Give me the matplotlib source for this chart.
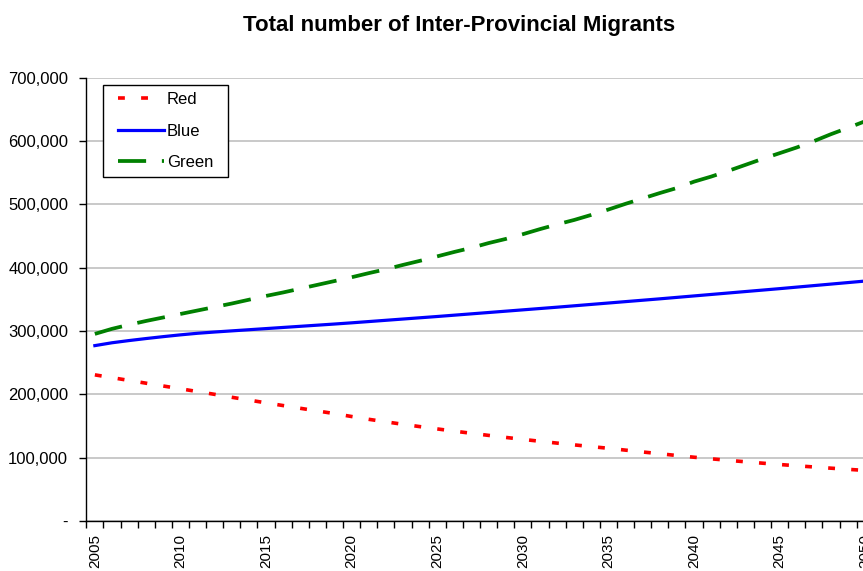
import matplotlib
matplotlib.use("Agg")
import matplotlib.pyplot as plt
import matplotlib.ticker as ticker
from matplotlib.path import Path

plt.rcParams['font.family'] = ['Liberation Sans', 'DejaVu Sans']

years = list(range(2005, 2051))

# inter-provincial migrants, thousands
red = [230.8, 226.4, 222.0, 217.6, 213.2, 208.8, 204.4, 200.0, 195.4, 191.0,
       186.6, 182.3, 178.0, 173.8, 169.6, 165.0, 160.6, 156.6, 152.7, 149.0,
       145.4, 141.9, 138.5, 135.2, 132.0, 128.9, 125.9, 123.0, 120.2, 117.5,
       114.8, 111.9, 109.0, 106.2, 103.4, 100.7, 98.2, 95.8, 93.5, 91.3,
       89.2, 87.2, 85.3, 83.4, 81.6, 79.8]
blue = [277.0, 281.5, 285.0, 288.2, 291.2, 294.0, 296.5, 298.5, 300.3, 302.1,
        303.9, 305.7, 307.5, 309.3, 311.1, 313.0, 315.0, 317.0, 319.0, 321.0,
        323.0, 325.1, 327.2, 329.3, 331.4, 333.5, 335.6, 337.7, 339.9, 342.1,
        344.3, 346.5, 348.7, 350.9, 353.2, 355.5, 357.8, 360.1, 362.4, 364.7,
        367.0, 369.4, 371.8, 374.2, 376.6, 379.0]
green = [295.5, 303.5, 310.0, 316.0, 321.5, 327.0, 332.5, 338.0, 343.5, 349.5,
         355.5, 361.0, 367.0, 373.0, 379.0, 385.0, 391.5, 397.6, 404.5, 411.0,
         418.0, 425.0, 431.5, 439.0, 445.5, 453.0, 461.0, 468.5, 475.5, 483.5,
         492.0, 501.0, 509.5, 518.0, 526.0, 536.0, 544.0, 553.0, 562.5, 572.0,
         581.0, 590.0, 600.0, 611.0, 621.0, 631.5]

title = "Total number of Inter-Provincial Migrants"

fig = plt.figure(figsize=(8.63, 5.71), dpi=100)
ax = fig.add_axes([0.1, 0.0876, 0.9125, 0.7761])

ax.plot(years, [v * 1000 for v in red], color="#FF0000", lw=2.6,
        linestyle=(0, (1.9, 4.5)), label="Red")
ax.plot(years, [v * 1000 for v in blue], color="#0000FF", lw=2.3,
        linestyle="-", label="Blue")
ax.plot(years, [v * 1000 for v in green], color="#008000", lw=2.7,
        linestyle=(0, (7.5, 4.2)), label="Green")

ax.set_xlim(2004.5, 2050.5)
ax.set_ylim(0, 700000)


def yfmt(v, pos):
    return "-" if v == 0 else f"{int(v):,}"


ax.yaxis.set_major_locator(ticker.MultipleLocator(100000))
ax.yaxis.set_major_formatter(ticker.FuncFormatter(yfmt))
ax.yaxis.grid(True, color="#C0C0C0", lw=1.2)
ax.set_axisbelow(True)

# labels every 5 years, tick marks between categories
ax.set_xticks(years[::5])
ax.set_xticklabels([str(y) for y in years[::5]], rotation=90)
ax.set_xticks([y - 0.5 for y in years] + [2050.5], minor=True)
ax.tick_params(axis="x", which="major", length=0, pad=9.5, labelsize=11)
ax.tick_params(axis="x", which="minor", length=5, width=1, direction="out")
ax.tick_params(axis="y", length=5, width=1, direction="out", pad=8,
               labelsize=12)

for side in ("top", "right"):
    ax.spines[side].set_visible(False)
for side in ("left", "bottom"):
    ax.spines[side].set_linewidth(1)

leg = ax.legend(loc="upper left", bbox_to_anchor=(0.0313, 0.984),
                borderaxespad=0, fancybox=False, framealpha=1,
                edgecolor="black", fontsize=12, handlelength=2.76,
                handletextpad=0.18, labelspacing=1.0, borderpad=0.42)


# legend frame with extra room left and right of the entries
def wide_box(x0, y0, width, height, mutation_size):
    px = 0.48 * mutation_size
    x0 -= px
    x1 = x0 + width + 2 * px
    y1 = y0 + height
    return Path([(x0, y0), (x1, y0), (x1, y1), (x0, y1), (x0, y0)],
                closed=True)


frame = leg.get_frame()
frame.set_boxstyle(wide_box)
frame.set_linewidth(1)

fig.text(0.532, 1 - 25 / 571, title, ha="center", va="center",
         fontsize=16, fontweight="bold")

fig.savefig("out.png", dpi=100)
